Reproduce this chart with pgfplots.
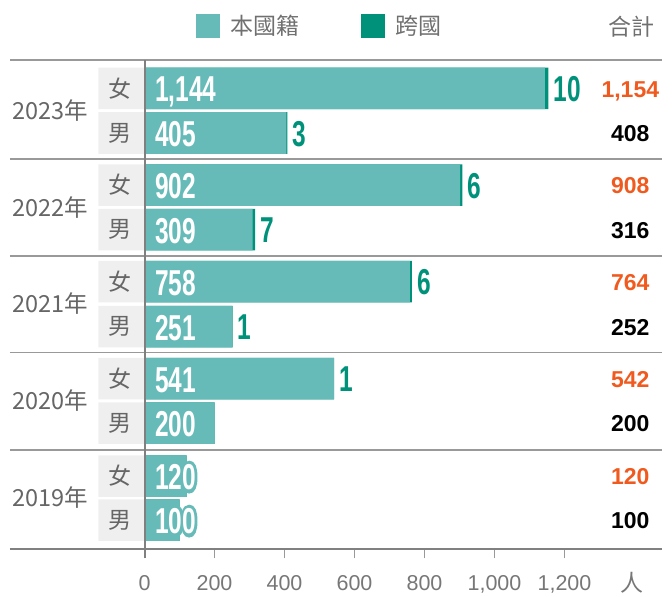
\documentclass[border=0pt]{standalone}
\usepackage{pgfplots}
\pgfplotsset{compat=1.18}
\usepackage{pgfplotstable}
\usepackage{fontspec}
\usepackage{graphicx}
\setmainfont{Liberation Sans}
\newfontfamily\cjk{Noto Sans CJK TC}
\newfontfamily\halofont{Liberation Sans}[BoldFeatures={FakeBold=20}]

\definecolor{dom}{HTML}{66BBB9}
\definecolor{crs}{HTML}{00917A}
\definecolor{org}{HTML}{F05A1E}
\definecolor{boxg}{HTML}{EFEFEF}
\definecolor{txtg}{HTML}{666666}
\definecolor{legt}{HTML}{707070}
\definecolor{tickt}{HTML}{777777}
\definecolor{lineg}{HTML}{999999}
\definecolor{axg}{HTML}{808080}
\definecolor{tickg}{HTML}{999999}

\newcommand\cn[1]{\scalebox{0.68}[1]{\fontsize{36}{36}\selectfont\bfseries #1}}
\newcommand\cnH[1]{\scalebox{0.68}[1]{\fontsize{36}{36}\halofont\bfseries #1}}
\newcommand\halo[1]{\leavevmode\rlap{\textcolor{dom}{\cnH{#1}}}\textcolor{white}{\cn{#1}}}

\newcommand\ylab{\cjk\fontsize{23.5}{24}\selectfont}
\newcommand\slab{\cjk\fontsize{23}{23}\selectfont}

\pgfplotstableread{
y dom total domlab totlab
505.5 1144 1154 1,144 1,154
409 902 908 902 908
312.5 758 764 758 764
215.5 541 542 541 542
118 120 120 120 120
}\female
\pgfplotstableread{
y dom total domlab totlab
461 405 408 405 408
364.5 309 316 309 316
267.5 251 252 251 252
171 200 200 200 200
74 100 100 100 100
}\male

\begin{document}
\begin{tikzpicture}
\begin{axis}[
 scale only axis, width=652pt, height=489.6pt,
 xmin=-384.3, xmax=1478.6, ymin=44.7, ymax=534.3,
 enlargelimits=false, clip=false,
 axis x line=bottom, axis y line=none,
 x axis line style={-, line width=2pt, color=axg},
 xtick={0,200,...,1200}, ytick=\empty,
 tick align=outside, major tick length=9pt,
 xtick style={draw=tickg, line width=0.8pt},
 xticklabel style={font=\fontsize{21.5}{22}\selectfont, text=tickt, yshift=-14pt,
   /pgf/number format/1000 sep={,}, /pgf/number format/assume math mode=true},
 legend style={at={(axis cs:147.1,568)}, anchor=west, draw=none, fill=none, inner sep=0pt,
   font=\cjk\fontsize{23}{23}\selectfont, text=legt, legend columns=-1,
   /tikz/every odd column/.append style={column sep=8pt},
   /tikz/every even column/.append style={column sep=60pt}},
 legend image code/.code={\fill[#1] (0pt,-12pt) rectangle (24pt,12pt);},
]
\path (axis cs:-412.86,0) rectangle (axis cs:1507.14,594);
\addlegendimage{fill=dom, draw=none}
\addlegendentry{本國籍}
\addlegendimage{fill=crs, draw=none}
\addlegendentry{跨國}

% label boxes
\addplot[xbar, bar width=41.5pt, bar shift=0pt, fill=boxg, draw=none, forget plot] table[x expr=-132, y=y]{\female};
\addplot[xbar, bar width=41.5pt, bar shift=0pt, fill=boxg, draw=none, forget plot] table[x expr=-132, y=y]{\male};
% totals (cross-border part shows at the end)
\addplot[xbar, bar width=41.5pt, bar shift=0pt, fill=crs, draw=none, forget plot] table[x=total, y=y]{\female};
\addplot[xbar, bar width=41.5pt, bar shift=0pt, fill=crs, draw=none, forget plot] table[x=total, y=y]{\male};
% domestic
\addplot[xbar, bar width=41.5pt, bar shift=0pt, fill=dom, draw=none, forget plot] table[x=dom, y=y]{\female};
\addplot[xbar, bar width=41.5pt, bar shift=0pt, fill=dom, draw=none, forget plot] table[x=dom, y=y]{\male};

% inside labels (2020-2023)
\addplot[draw=none, forget plot, restrict y to domain=150:600, nodes near coords={\textcolor{white}{\cn{\pgfplotspointmeta}}}, point meta=explicit symbolic,
  every node near coord/.append style={anchor=base west, inner sep=0pt, xshift=10.5pt, yshift=-13.5pt}] table[x expr=0, y=y, meta=domlab]{\female};
\addplot[draw=none, forget plot, restrict y to domain=150:600, nodes near coords={\textcolor{white}{\cn{\pgfplotspointmeta}}}, point meta=explicit symbolic,
  every node near coord/.append style={anchor=base west, inner sep=0pt, xshift=10.5pt, yshift=-13.5pt}] table[x expr=0, y=y, meta=domlab]{\male};
% inside labels (2019, outlined)
\addplot[draw=none, forget plot, restrict y to domain=0:150, nodes near coords={\halo{\pgfplotspointmeta}}, point meta=explicit symbolic,
  every node near coord/.append style={anchor=base west, inner sep=0pt, xshift=10.5pt, yshift=-13.5pt}] table[x expr=0, y=y, meta=domlab]{\female};
\addplot[draw=none, forget plot, restrict y to domain=0:150, nodes near coords={\halo{\pgfplotspointmeta}}, point meta=explicit symbolic,
  every node near coord/.append style={anchor=base west, inner sep=0pt, xshift=10.5pt, yshift=-13.5pt}] table[x expr=0, y=y, meta=domlab]{\male};
% cross labels
\addplot[draw=none, forget plot, nodes near coords={\cn{\pgfplotspointmeta}}, point meta=explicit symbolic,
  every node near coord/.append style={anchor=base west, inner sep=0pt, xshift=5pt, yshift=-13pt, text=crs}]
  coordinates {(1154,505.5) [10] (908,409) [6] (764,312.5) [6] (542,215.5) [1]
               (408,461) [3] (316,364.5) [7] (252,267.5) [1]};
% totals column
\addplot[draw=none, forget plot, nodes near coords, point meta=explicit symbolic,
  every node near coord/.append style={anchor=base, inner sep=0pt, yshift=-8.8pt, text=org, font=\fontsize{23}{23}\selectfont\bfseries}]
  table[x expr=1388, y=y, meta=totlab]{\female};
\addplot[draw=none, forget plot, nodes near coords, point meta=explicit symbolic,
  every node near coord/.append style={anchor=base, inner sep=0pt, yshift=-8.8pt, text=black, font=\fontsize{23}{23}\selectfont\bfseries}]
  table[x expr=1388, y=y, meta=totlab]{\male};

% separators
\draw[lineg, line width=2pt] (axis cs:-384.3,534.3) -- (axis cs:1478.6,534.3);
\draw[lineg, line width=1.5pt] (axis cs:-384.3,435.2) -- (axis cs:1478.6,435.2);
\draw[lineg, line width=1.5pt] (axis cs:-384.3,338) -- (axis cs:1478.6,338);
\draw[lineg, line width=1.5pt] (axis cs:-384.3,241.3) -- (axis cs:1478.6,241.3);
\draw[lineg, line width=1.5pt] (axis cs:-384.3,144) -- (axis cs:1478.6,144);
\draw[axg, line width=2pt] (axis cs:0,534.3) -- (axis cs:0,36);

% year labels
\node[anchor=east, text=txtg, font=\ylab, inner sep=0pt] at (axis cs:-161.4,483.25) {2023年};
\node[anchor=east, text=txtg, font=\ylab, inner sep=0pt] at (axis cs:-161.4,386.75) {2022年};
\node[anchor=east, text=txtg, font=\ylab, inner sep=0pt] at (axis cs:-161.4,290) {2021年};
\node[anchor=east, text=txtg, font=\ylab, inner sep=0pt] at (axis cs:-161.4,193.25) {2020年};
\node[anchor=east, text=txtg, font=\ylab, inner sep=0pt] at (axis cs:-161.4,96) {2019年};
% sex labels
\node[text=txtg, font=\slab, inner sep=0pt] at (axis cs:-70,505.5) {女};
\node[text=txtg, font=\slab, inner sep=0pt] at (axis cs:-70,409) {女};
\node[text=txtg, font=\slab, inner sep=0pt] at (axis cs:-70,312.5) {女};
\node[text=txtg, font=\slab, inner sep=0pt] at (axis cs:-70,215.5) {女};
\node[text=txtg, font=\slab, inner sep=0pt] at (axis cs:-70,118) {女};
\node[text=txtg, font=\slab, inner sep=0pt] at (axis cs:-70,461) {男};
\node[text=txtg, font=\slab, inner sep=0pt] at (axis cs:-70,364.5) {男};
\node[text=txtg, font=\slab, inner sep=0pt] at (axis cs:-70,267.5) {男};
\node[text=txtg, font=\slab, inner sep=0pt] at (axis cs:-70,171) {男};
\node[text=txtg, font=\slab, inner sep=0pt] at (axis cs:-70,74) {男};
\node[text=legt, font=\slab, inner sep=0pt] at (axis cs:1390,567.5) {合計};
\node[text=tickt, font=\slab, inner sep=0pt] at (axis cs:1392,11) {人};
\end{axis}
\end{tikzpicture}
\end{document}
